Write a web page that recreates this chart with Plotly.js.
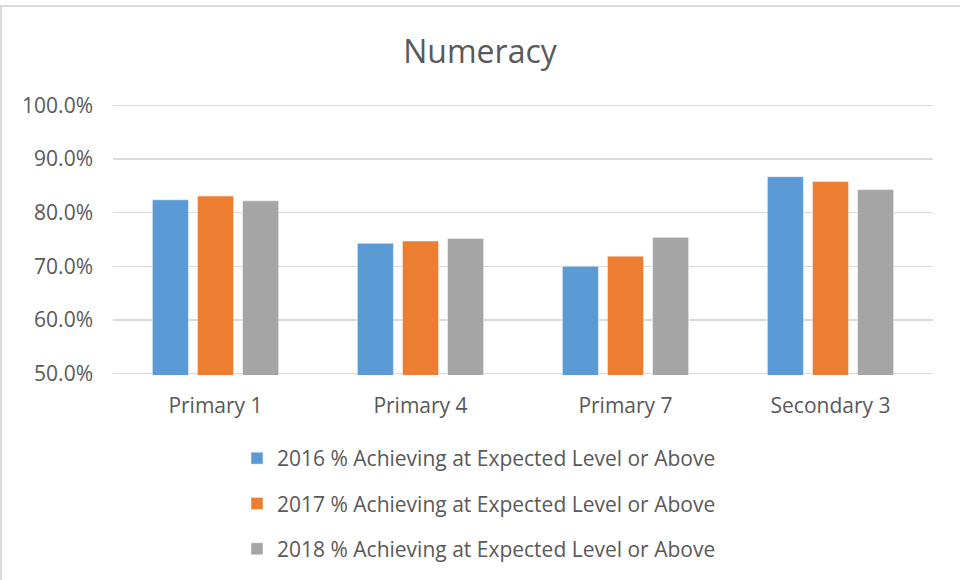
<!DOCTYPE html>
<html>
<head>
<meta charset="utf-8">
<script src="https://cdn.plot.ly/plotly-3.0.1.min.js"></script>
<style>
  html, body { margin: 0; padding: 0; background: #ffffff; }
  #wrap { position: relative; width: 960px; height: 580px; overflow: hidden; }
  #frame { position: absolute; left: 0; top: 5px; width: 958px; height: 580px;
           border-top: 2px solid #D9D9D9; border-left: 2px solid #D9D9D9; }
  #chart { position: absolute; left: 0; top: 0; width: 960px; height: 580px; }
</style>
</head>
<body>
<div id="wrap">
  <div id="frame"></div>
  <div id="chart"></div>
</div>
<script>
const categories = ["Primary 1", "Primary 4", "Primary 7", "Secondary 3"];
const seriesNames = [
  "2016 % Achieving at Expected Level or Above",
  "2017 % Achieving at Expected Level or Above",
  "2018 % Achieving at Expected Level or Above"
];
const values2016 = [0.824, 0.743, 0.700, 0.867];
const values2017 = [0.831, 0.747, 0.719, 0.858];
const values2018 = [0.822, 0.752, 0.754, 0.843];
const yTickVals = [0.5, 0.6, 0.7, 0.8, 0.9, 1.0];
const yTickText = ["50.0%", "60.0%", "70.0%", "80.0%", "90.0%", "100.0%"];

const colors = ["#5B9BD5", "#ED7D31", "#A5A5A5"];
const allValues = [values2016, values2017, values2018];
const FONT = "'Open Sans', 'Segoe UI', sans-serif";

const traces = allValues.map((vals, i) => ({
  type: "bar",
  name: seriesNames[i],
  x: categories,
  y: vals,
  base: 0,
  legendgroup: "g" + i,
  marker: { color: colors[i], line: { color: "rgba(255,255,255,0.45)", width: 1 } },
  hoverinfo: "x+y+name"
}));

const layout = {
  width: 960,
  height: 580,
  paper_bgcolor: "rgba(0,0,0,0)",
  plot_bgcolor: "rgba(0,0,0,0)",
  margin: { l: 113, r: 27, t: 104, b: 205 },
  title: {
    text: "Numeracy",
    font: { family: FONT, size: 32, color: "#595959" },
    x: 0.5, xanchor: "center",
    y: 1 - 52 / 580, yanchor: "middle", yref: "container"
  },
  barmode: "group",
  bargap: 0.34,
  bargroupgap: 0.2,
  xaxis: {
    type: "category",
    automargin: false,
    showgrid: false,
    zeroline: false,
    showline: false,
    ticks: "",
    ticklabelstandoff: 16,
    tickfont: { family: FONT, size: 21, color: "#595959" }
  },
  yaxis: {
    range: [0.4975, 1.0025],
    automargin: false,
    tickvals: yTickVals,
    ticktext: yTickText,
    showgrid: true,
    gridcolor: "#D9D9D9",
    gridwidth: 1.3,
    zeroline: false,
    showline: false,
    ticks: "",
    ticklabelstandoff: 19,
    tickfont: { family: FONT, size: 21, color: "#595959" }
  },
  showlegend: true,
  legend: {
    orientation: "v",
    x: (237 - 113) / 820,
    xanchor: "left",
    yref: "container",
    y: 1 - 438 / 580,
    yanchor: "top",
    tracegroupgap: 15,
    font: { family: FONT, size: 21, color: "#595959" },
    bgcolor: "rgba(0,0,0,0)"
  }
};

Plotly.newPlot("chart", traces, layout, { displayModeBar: false, staticPlot: true });
</script>
</body>
</html>
